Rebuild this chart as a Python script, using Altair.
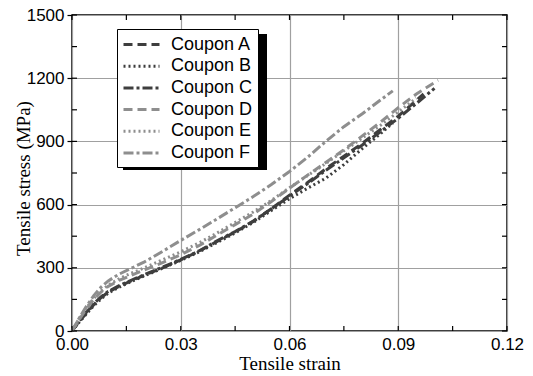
import altair as alt
import pandas as pd

coupons = ["Coupon A", "Coupon B", "Coupon C", "Coupon D", "Coupon E", "Coupon F"]
colors = ["#3e3e3e", "#3e3e3e", "#3e3e3e", "#8e8e8e", "#8e8e8e", "#8e8e8e"]
dashes = [[9, 5], [2, 3], [10, 3, 3, 3], [9, 5], [2, 3], [10, 3, 3, 3]]

base_strain = [0, 0.002, 0.004, 0.006, 0.008, 0.010, 0.013, 0.016, 0.020, 0.025,
               0.030, 0.035, 0.040, 0.045, 0.050, 0.055, 0.060, 0.065, 0.070,
               0.075, 0.080, 0.085]

strain_A = base_strain + [0.090, 0.097]
stress_A = [0, 45, 85, 125, 158, 185, 212, 235, 265, 300, 338, 378, 425, 470, 520,
            580, 645, 705, 770, 830, 890, 955, 1020, 1125]

strain_B = base_strain + [0.0885]
stress_B = [0, 42, 82, 120, 152, 180, 208, 232, 262, 298, 335, 375, 420, 465, 515,
            572, 628, 678, 725, 790, 865, 935, 988]

strain_C = base_strain + [0.090, 0.095, 0.100]
stress_C = [0, 48, 90, 130, 162, 188, 215, 238, 268, 303, 340, 380, 428, 472, 522,
            580, 640, 700, 762, 822, 882, 945, 1010, 1080, 1152]

strain_D = base_strain + [0.090, 0.095, 0.101]
stress_D = [0, 55, 105, 150, 185, 212, 240, 262, 290, 325, 362, 405, 455, 505, 555,
            615, 678, 740, 800, 860, 925, 990, 1060, 1125, 1190]

strain_E = base_strain + [0.090, 0.095]
stress_E = [0, 60, 110, 155, 190, 218, 248, 272, 300, 338, 376, 418, 465, 515, 565,
            620, 680, 738, 795, 855, 915, 975, 1040, 1105]

strain_F = base_strain + [0.0885]
stress_F = [0, 62, 118, 168, 208, 238, 270, 295, 328, 378, 430, 480, 532, 585, 638,
            695, 757, 825, 900, 970, 1030, 1095, 1140]

x_major = [0, 0.03, 0.06, 0.09, 0.12]
y_major = [0, 300, 600, 900, 1200, 1500]
x_ticks = [0, 0.015, 0.03, 0.045, 0.06, 0.075, 0.09, 0.105, 0.12]
y_ticks = [0, 150, 300, 450, 600, 750, 900, 1050, 1200, 1350, 1500]

series = [strain_A, strain_B, strain_C, strain_D, strain_E, strain_F]
values = [stress_A, stress_B, stress_C, stress_D, stress_E, stress_F]
rows = []
for name, xs, ys in zip(coupons, series, values):
    for i, (xv, yv) in enumerate(zip(xs, ys)):
        rows.append({"strain": xv, "stress": yv, "coupon": name, "idx": i})
df = pd.DataFrame(rows)

W, H = 435, 316
xscale = alt.Scale(domain=[0, 0.12], nice=False, zero=False)
yscale = alt.Scale(domain=[0, 1500], nice=False, zero=False)

x_axis = alt.Axis(title="Tensile strain", values=x_major, format=".2f", grid=True,
                  ticks=False, domain=False, labelPadding=5, labelFontSize=17,
                  labelFont="Liberation Sans", labelColor="black",
                  titleFont="Liberation Serif", titleFontSize=19, titleFontWeight="normal",
                  titleColor="black", titleY=38, titleBaseline="alphabetic",
                  gridColor="#a0a0a0", gridWidth=1.2, labelFlush=False)
y_axis = alt.Axis(title="Tensile stress (MPa)", values=y_major, format="d", grid=True,
                  ticks=True, tickSize=5, tickColor="black", tickWidth=1.2, domain=False,
                  labelPadding=3, labelFontSize=17, labelFont="Liberation Sans",
                  labelColor="black", titleFont="Liberation Serif", titleFontSize=19,
                  titleFontWeight="normal", titleColor="black", titleX=-43, titleY=163,
                  titleBaseline="alphabetic", gridColor="#a0a0a0", gridWidth=1.2,
                  labelFlush=False)

legend = alt.Legend(title=None, orient="none", legendX=45, legendY=14,
                    symbolType="M-1,0H3", symbolSize=324, symbolStrokeWidth=3,
                    labelFont="Liberation Sans", labelFontSize=18, labelColor="black",
                    labelOffset=28, padding=5, rowPadding=1.7, strokeColor="black",
                    fillColor="white", cornerRadius=0, labelLimit=200)

lines = alt.Chart(df).mark_line(strokeWidth=3).encode(
    x=alt.X("strain:Q", scale=xscale, axis=x_axis),
    y=alt.Y("stress:Q", scale=yscale, axis=y_axis),
    color=alt.Color("coupon:N", scale=alt.Scale(domain=coupons, range=colors), legend=legend),
    strokeDash=alt.StrokeDash("coupon:N", scale=alt.Scale(domain=coupons, range=dashes),
                              legend=legend),
    order=alt.Order("idx:Q"),
)

# drop shadow behind the legend box (decoration, pixel offsets)
one = pd.DataFrame({"a": ["s"]})
shadow = alt.Chart(one).mark_rect(color="black", opacity=1).encode(
    x=alt.value(51), x2=alt.value(195), y=alt.value(19), y2=alt.value(155),
    detail=alt.Detail("a:N"))

xt = pd.DataFrame({"strain": x_ticks})
yt = pd.DataFrame({"stress": y_ticks})
tick_style = dict(color="black", strokeWidth=1.2)
bottom_ticks = alt.Chart(xt).mark_rule(**tick_style).encode(
    x=alt.X("strain:Q", scale=xscale, axis=x_axis), y=alt.value(H), y2=alt.value(H - 5))
top_ticks = alt.Chart(xt).mark_rule(**tick_style).encode(
    x=alt.X("strain:Q", scale=xscale, axis=x_axis), y=alt.value(0), y2=alt.value(5))
left_ticks = alt.Chart(yt).mark_rule(**tick_style).encode(
    y=alt.Y("stress:Q", scale=yscale, axis=y_axis), x=alt.value(0), x2=alt.value(5))
right_ticks = alt.Chart(yt).mark_rule(**tick_style).encode(
    y=alt.Y("stress:Q", scale=yscale, axis=y_axis), x=alt.value(W), x2=alt.value(W - 5))

chart = alt.layer(shadow, lines, bottom_ticks, top_ticks, left_ticks,
                  right_ticks).properties(
    width=W, height=H,
    autosize=alt.AutoSizeParams(type="none"),
    padding={"left": 72, "top": 15, "right": 26, "bottom": 45},
).configure(background="white").configure_view(
    stroke="black", strokeWidth=1.5
).configure_axis(titleFontWeight="normal")

chart.save("out.html", embed_options={"renderer": "svg", "actions": False})
